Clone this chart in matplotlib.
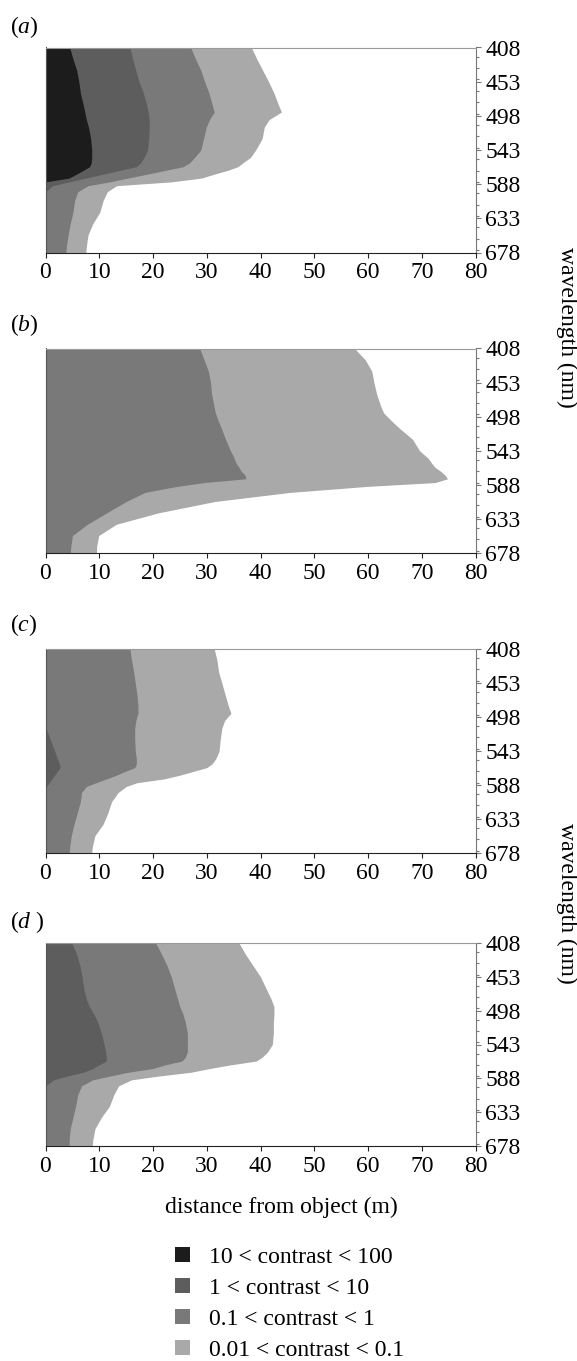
import matplotlib.pyplot as plt
from matplotlib.ticker import FixedLocator, MultipleLocator
from matplotlib.patches import Patch

plt.rcParams['font.family'] = ['Liberation Serif', 'DejaVu Serif']
plt.rcParams['mathtext.fontset'] = 'custom'
plt.rcParams['mathtext.rm'] = 'Liberation Serif'
plt.rcParams['mathtext.it'] = 'Liberation Serif:italic'

# wavelength (nm) at which the band edges were read
wavelength = [408, 423, 438, 453, 468, 483, 493, 503, 513, 528, 543, 553, 560,
              565, 570, 575, 580, 585, 590, 598, 610, 625, 640, 655, 670, 678]

# outer edge (distance, m) of each contrast band
a_gt10 = [4.5, 5.1, 5.8, 6.2, 6.5, 7.0, 7.3, 7.6, 8.0, 8.4, 8.6, 8.6, 8.5,
          8.2, 7.0, 5.7, 4.4, 0, 0, 0, 0, 0, 0, 0, 0, 0]
a_gt1 = [15.7, 16.2, 16.8, 17.4, 18.2, 18.8, 19.1, 19.3, 19.3, 19.2, 19.0, 18.3, 17.7,
         16.9, 13.7, 10.6, 7.5, 4.4, 1.3, 0, 0, 0, 0, 0, 0, 0]
a_gt01 = [27.0, 27.9, 28.9, 29.6, 30.4, 31.0, 31.4, 30.5, 29.9, 29.4, 28.9, 27.7, 26.8,
          25.6, 22.2, 18.8, 15.3, 11.9, 7.9, 6.0, 5.4, 5.1, 4.6, 4.2, 3.9, 3.8]
a_gt001 = [38.3, 39.3, 40.4, 41.5, 42.5, 43.3, 43.9, 41.6, 40.7, 40.3, 39.1, 38.1, 36.7,
           35.8, 33.8, 31.3, 29.0, 23.4, 13.2, 11.5, 10.7, 10.1, 8.8, 7.9, 7.6, 7.5]

b_gt01 = [28.7, 29.5, 30.3, 30.7, 30.9, 31.3, 31.6, 32.1, 32.7, 33.5, 34.4, 35.1, 35.5,
          36.0, 36.4, 37.1, 37.3, 29.5, 24.5, 18.5, 15.0, 11.4, 7.8, 5.0, 4.7, 4.6]
b_gt001 = [57.5, 59.5, 60.7, 61.1, 61.6, 62.3, 62.9, 64.3, 65.8, 68.3, 69.6, 71.2, 71.9,
           72.5, 73.5, 74.3, 74.8, 72.5, 60.0, 45.5, 31.5, 21.0, 13.2, 9.9, 9.5, 9.5]

c_gt1 = [0, 0, 0, 0, 0, 0, 0, 0, 0.1, 0.9, 1.7, 2.2, 2.6,
         2.7, 2.2, 1.7, 1.2, 0.7, 0.2, 0, 0, 0, 0, 0, 0, 0]
c_gt01 = [15.7, 16.0, 16.4, 16.7, 17.0, 17.2, 17.2, 16.8, 16.6, 16.6, 16.7, 16.9, 16.9,
          16.6, 14.8, 13.2, 11.3, 9.4, 7.6, 6.7, 6.5, 5.9, 5.3, 4.8, 4.5, 4.4]
c_gt001 = [31.4, 31.9, 32.2, 32.8, 33.4, 34.0, 34.5, 33.3, 32.8, 32.5, 32.3, 31.7, 31.0,
           30.0, 27.5, 25.0, 22.0, 17.0, 15.0, 13.5, 12.3, 11.6, 10.7, 9.2, 8.7, 8.6]

d_gt1 = [4.9, 5.8, 6.4, 6.8, 7.1, 7.6, 8.2, 9.0, 9.7, 10.4, 10.9, 11.2, 11.3,
         11.3, 10.0, 8.8, 7.0, 4.0, 1.5, 0, 0, 0, 0, 0, 0, 0]
d_gt01 = [20.5, 21.6, 22.6, 23.4, 24.0, 24.6, 25.0, 25.6, 26.0, 26.4, 26.4, 26.4, 26.0,
          25.4, 22.3, 19.9, 15.3, 12.0, 8.8, 6.7, 6.0, 5.6, 5.1, 4.6, 4.4, 4.4]
d_gt001 = [36.0, 37.2, 38.6, 40.0, 41.0, 42.0, 42.5, 42.5, 42.4, 42.4, 42.2, 41.3, 40.3,
           39.2, 34.5, 30.5, 27.0, 21.0, 16.0, 13.6, 12.7, 11.9, 10.4, 9.2, 8.8, 8.7]

band_labels = ['10 < contrast < 100', '1 < contrast < 10',
               '0.1 < contrast < 1', '0.01 < contrast < 0.1']
band_colors = ['#1c1c1c', '#5d5d5d', '#797979', '#a9a9a9']
wl_ticks = [408, 453, 498, 543, 588, 633, 678]
dist_ticks = [0, 10, 20, 30, 40, 50, 60, 70, 80]

# (panel letter, [edges from darkest to lightest band])
panels = [
    ('a', [a_gt10, a_gt1, a_gt01, a_gt001]),
    ('b', [None, None, b_gt01, b_gt001]),
    ('c', [None, c_gt1, c_gt01, c_gt001]),
    ('d ', [None, d_gt1, d_gt01, d_gt001]),
]

W, H = 577, 1361
fig = plt.figure(figsize=(W / 100, H / 100), dpi=100)

# axes top/bottom in pixels
ax_px = [(47.5, 252.5), (348.5, 553), (649, 853), (943, 1146)]
label_y = [27, 325, 625, 922]
left_px, right_px = 45.5, 475.5
fs = 17

for (name, edges), (top, bot), ly in zip(panels, ax_px, label_y):
    ax = fig.add_axes([left_px / W, 1 - bot / H, (right_px - left_px) / W, (bot - top) / H])
    # lightest band first, darker ones on top
    for edge, col in reversed(list(zip(edges, band_colors))):
        if edge is None:
            continue
        ax.fill_betweenx(wavelength, 0, edge, color=col, lw=0)

    ax.set_xlim(0, 80)
    ax.set_ylim(678, 408)
    ax.set_xticks(dist_ticks)
    ax.yaxis.set_major_locator(FixedLocator(wl_ticks))
    ax.yaxis.set_minor_locator(MultipleLocator(15))
    ax.yaxis.tick_right()
    ax.tick_params(axis='x', direction='out', length=3.5, width=0.8,
                   pad=3.5, labelsize=fs, colors='#222222', labelcolor='black')
    ax.tick_params(axis='y', which='major', direction='out', length=3.5, width=0.8,
                   pad=3.5, labelsize=fs, colors='#777777', labelcolor='black')
    ax.tick_params(axis='y', which='minor', direction='out', length=2.4, width=0.8,
                   colors='#777777')

    ax.spines['top'].set_color('#9a9a9a')
    ax.spines['right'].set_color('#777777')
    ax.spines['bottom'].set_color('#222222')
    ax.spines['left'].set_color('#555555')
    for s in ax.spines.values():
        s.set_linewidth(0.8)

    fig.text(10 / W, 1 - ly / H, '($' + name.strip() + '$' + (' )' if name.endswith(' ') else ')'),
             fontsize=fs, ha='left', va='center')

fig.text(567 / W, 1 - 327 / H, 'wavelength (nm)', rotation=270,
         fontsize=fs, ha='center', va='center')
fig.text(567 / W, 1 - 903 / H, 'wavelength (nm)', rotation=270,
         fontsize=fs, ha='center', va='center')
fig.text(281.5 / W, 1 - 1207 / H, 'distance from object (m)',
         fontsize=fs, ha='center', va='center')

handles = [Patch(facecolor=c, edgecolor='none') for c in band_colors]
fig.legend(handles, band_labels, loc='upper left',
           bbox_to_anchor=(175 / W, 1 - 1247 / H), frameon=False,
           fontsize=fs, handlelength=0.62, handleheight=0.62,
           handletextpad=0.8, labelspacing=0.42, borderpad=0, borderaxespad=0)

fig.savefig('out.png', dpi=100)
